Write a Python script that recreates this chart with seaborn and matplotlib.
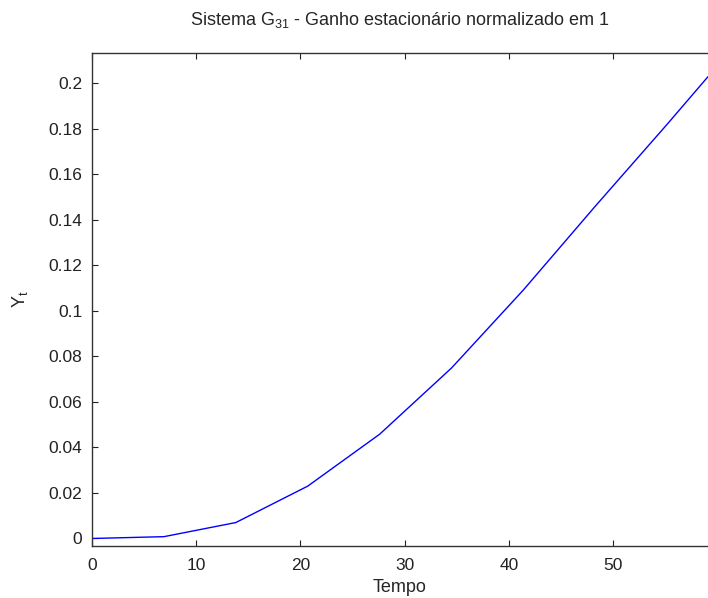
import matplotlib
matplotlib.use("Agg")
import matplotlib.pyplot as plt
import seaborn as sns
import pandas as pd

# Step response samples of G31 (normalized steady-state gain)
tempo = [0.0, 6.9, 13.8, 20.7, 27.6, 34.5, 41.4, 48.3, 55.2, 59.1]
resposta = [0.0, 0.0008, 0.0070, 0.0230, 0.0458, 0.0749, 0.1092, 0.1460, 0.1820, 0.2028]

x_ticks = [0, 10, 20, 30, 40, 50]
y_ticks = [0, 0.02, 0.04, 0.06, 0.08, 0.1, 0.12, 0.14, 0.16, 0.18, 0.2]
y_tick_labels = ["0", "0.02", "0.04", "0.06", "0.08", "0.1", "0.12", "0.14",
                 "0.16", "0.18", "0.2"]

sns.set_style("ticks")
plt.rcParams["font.family"] = ["Liberation Sans", "DejaVu Sans"]
plt.rcParams["mathtext.default"] = "regular"

df = pd.DataFrame({"Tempo": tempo, "Y": resposta})

fig = plt.figure(figsize=(7.08, 5.98), dpi=100)
ax = fig.add_axes([92 / 708, 1 - 546 / 598, 616 / 708, (546 - 53) / 598])

sns.lineplot(data=df, x="Tempo", y="Y", ax=ax, color="#0000ff", linewidth=1.0)

ax.set_xlim(0, 59.1)
ax.set_ylim(-0.0033, 0.2132)
ax.set_xticks(x_ticks)
ax.set_xticklabels([str(t) for t in x_ticks])
ax.set_yticks(y_ticks)
ax.set_yticklabels(y_tick_labels)

ax.tick_params(direction="in", length=4, width=0.8, top=True, right=False,
               labelsize=12.5, colors="#222222")
ax.tick_params(axis="x", pad=9)
ax.tick_params(axis="y", pad=7)
for name, s in ax.spines.items():
    s.set_linewidth(1.0)
    s.set_color("#333333")
ax.spines["right"].set_visible(False)

ax.set_xlabel("Tempo", fontsize=13, labelpad=4)
ax.set_ylabel("Y$_t$", fontsize=13, labelpad=13)
ax.set_title("Sistema G$_{31}$ - Ganho estacionário normalizado em 1",
             fontsize=13, pad=20)

fig.savefig("out.png", dpi=100, facecolor="white")
